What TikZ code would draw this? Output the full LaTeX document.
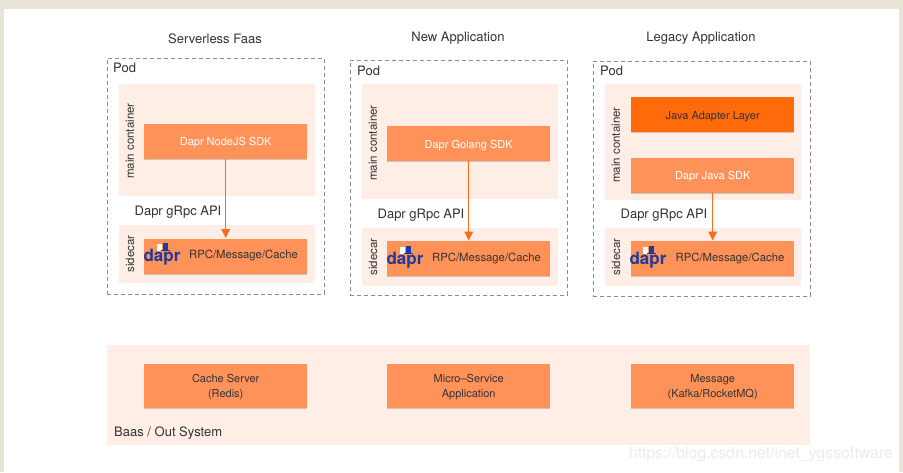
\documentclass[tikz,border=0pt]{standalone}
\usepackage{fontspec}
\setmainfont{TeX Gyre Heros}
\usepackage{xcolor}
\usetikzlibrary{arrows.meta}
\usetikzlibrary{shadows}
\definecolor{pagebar}{HTML}{E9E5D6}
\definecolor{paleback}{HTML}{FEEEE5}
\definecolor{sdkfill}{HTML}{FF9259}
\definecolor{adapterfill}{HTML}{FF6A0A}
\definecolor{arrowline}{HTML}{FB6B1E}
\definecolor{daprblue}{HTML}{1E3A9C}
\definecolor{inktext}{HTML}{333333}
\newcommand\daprhat[1]{%
	\fill[white] ([shift={(-5,-6)}]#1) rectangle +(5,-7);
	\fill[daprblue] ([shift={(-1,-6)}]#1) rectangle +(9,-1.5);
	\fill[daprblue] ([shift={(1,-7)}]#1) rectangle +(5,-7);
}

\begin{document}
\begin{tikzpicture}[x=1pt,y=-1pt]
\useasboundingbox (0,0) rectangle (903,472);
\tikzstyle{caption}=[font=\fontsize{13}{15}\selectfont,text=inktext,inner sep=0pt]
\tikzstyle{pod}=[draw=black!45,dash pattern=on 4pt off 3pt,line width=.9pt,anchor=north west,inner sep=0pt,minimum width=217pt,minimum height=235pt]
\tikzstyle{back}=[fill=paleback,anchor=north west,inner sep=0pt,minimum width=196pt]
\tikzstyle{box}=[fill=sdkfill,anchor=north west,inner sep=0pt,minimum width=163pt,minimum height=35pt,
	font=\fontsize{11}{14.5}\selectfont,align=center,text=inktext,text height=10pt,text depth=1pt,
	drop shadow={shadow xshift=0pt,shadow yshift=-1pt,fill=black,opacity=.18}]
\tikzstyle{twolines}=[box,minimum height=44pt,text height=23pt,text depth=1pt]
\tikzstyle{sdk}=[box,text=white]
\tikzstyle{vert}=[caption,rotate=90,font=\fontsize{11.5}{13}\selectfont]
\tikzstyle{rpctext}=[caption,font=\fontsize{11.3}{13}\selectfont,text height=8pt,text depth=2.5pt]
\tikzstyle{link}=[draw=arrowline,line width=1.5pt,-{Triangle[length=9pt,width=8.5pt]},shorten >=.5pt]
\tikzstyle{logo}=[font=\fontsize{17}{17}\bfseries\selectfont,text=daprblue,inner sep=0pt]

%% PAGE
\node (bar) [fill=pagebar,anchor=north west,inner sep=0pt,minimum width=903pt,minimum height=472pt] at (0,0) {};
\node (sheet) [fill=white,anchor=north west,inner sep=0pt,minimum width=895pt,minimum height=463pt] at (4,9) {};

%% SERVERLESS
\node (title1) [caption] at (215,38.5) {Serverless Faas};
\node (pod1) [pod,minimum height=236pt] at (107,57.5) {};
\node (podname1) [caption,anchor=west] at (113,68) {Pod};
\node (main1) [back,minimum height=112pt] at (119,84) {};
\node (side1) [back,minimum height=58pt] at (119,225) {};
\node (mainname1) [vert] at (130,141) {main container};
\node (sidename1) [vert] at (130,254) {sidecar};
\node (sdk1) [sdk] at (144,123.5) {Dapr NodeJS SDK};
\node (rpc1) [box] at (144,238.5) {};
\node (rpctext1) [rpctext] at (243.5,256) {RPC/Message/Cache};
\node (dapr1) [logo] at (162,257) {dapr};
\daprhat{dapr1}
\node (api1) [caption] at (178,212.5) {Dapr gRpc API};
\draw[link] (sdk1.south) -- (rpc1.north);

%% NEW APP
\node (title2) [caption] at (458,38.5) {New Application};
\node (pod2) [pod] at (350,60) {};
\node (podname2) [caption,anchor=west] at (357,71) {Pod};
\node (main2) [back,minimum height=115pt] at (362,84) {};
\node (side2) [back,minimum height=58pt] at (362,228) {};
\node (mainname2) [vert] at (373,143) {main container};
\node (sidename2) [vert] at (373,257) {sidecar};
\node (sdk2) [sdk] at (387,126) {Dapr Golang SDK};
\node (rpc2) [box] at (387,241) {};
\node (rpctext2) [rpctext] at (486.5,258.5) {RPC/Message/Cache};
\node (dapr2) [logo] at (405,260) {dapr};
\daprhat{dapr2}
\node (api2) [caption] at (421,215.5) {Dapr gRpc API};
\draw[link] (sdk2.south) -- (rpc2.north);

%% LEGACY
\node (title3) [caption] at (701,38.5) {Legacy Application};
\node (pod3) [pod] at (593,60.5) {};
\node (podname3) [caption,anchor=west] at (600,71) {Pod};
\node (main3) [back,minimum height=116pt] at (605,84) {};
\node (side3) [back,minimum height=58pt] at (605,228) {};
\node (mainname3) [vert] at (616,145) {main container};
\node (sidename3) [vert] at (616,257) {sidecar};
\node (adapter3) [box,fill=adapterfill] at (631,97) {Java Adapter Layer};
\node (sdk3) [sdk] at (631,157.5) {Dapr Java SDK};
\node (rpc3) [box] at (631,241) {};
\node (rpctext3) [rpctext] at (730,258.5) {RPC/Message/Cache};
\node (dapr3) [logo] at (648,260) {dapr};
\daprhat{dapr3}
\node (api3) [caption] at (664,215.5) {Dapr gRpc API};
\draw[link] (sdk3.south) -- (rpc3.north);

%% BAAS
\node (baas) [back,minimum width=703pt,minimum height=100pt] at (107,345) {};
\node (baasname) [caption,anchor=west] at (114,433) {Baas / Out System};
\node (cache) [twolines] at (144,364) {Cache Server\\(Redis)};
\node (micro) [twolines] at (387,364) {Micro--Service\\Application};
\node (mq) [twolines] at (631,364) {Message\\(Kafka/RocketMQ)};

\node (mark) [font=\fontsize{15.8}{18}\selectfont,text=black!8,inner sep=0pt,anchor=east] at (893,454) {https://blog.csdn.net/inet\_ygssoftware};
\end{tikzpicture}
\end{document}
